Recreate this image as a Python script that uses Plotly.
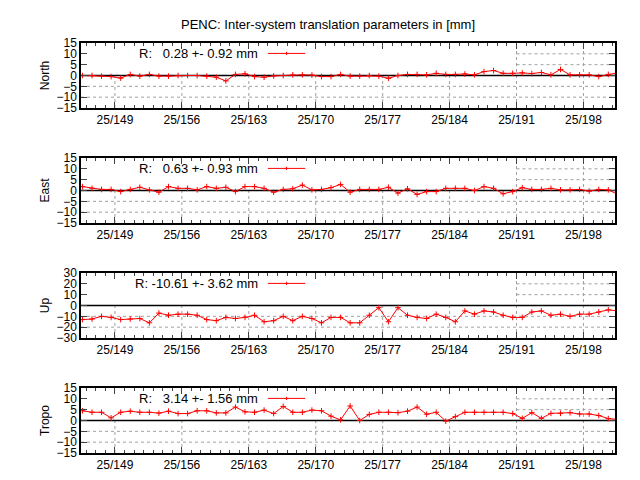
import plotly.graph_objects as go

days = [145.6 + i for i in range(57)]
tick_days = [149, 156, 163, 170, 177, 184, 191, 198]
tick_text = ["25/%d" % d for d in tick_days]

north = [0, 0, -0.3, -0.5, -1.2, 0.5, -0.3, 0.5, -0.3, -0.3, 0, 0, 0,
         -0.3, -0.8, -2.5, 0.5, 0.8, -0.5, -0.8, -0.2, 0, 0.3, 0.3, 0.2,
         -0.5, -0.5, 0.5, -0.3, -0.3, 0, -0.3, -1.3, 0, 0.5, 0.5, 0.3,
         1.0, 0.5, 0.5, 0.7, 0.3, 1.8, 2.3, 1.0, 1.0, 1.2, 0.9, 1.4, 0.3,
         2.8, 0.3, 0.3, 0.3, -0.5, 0.5, 1.3]
east = [1.8, 1.0, 0.5, 0.5, -0.5, 0.5, 1.5, 0.3, -0.8, 1.8, 1.0, 1.0,
        0.3, 1.8, 1.0, 1.5, -0.5, 1.8, 1.8, 1.0, -0.8, 0.5, 0.8, 2.5,
        0.3, 0.5, 1.3, 2.8, -0.8, 0.5, 0.5, 0.5, 1.5, -1.2, 0.8, -1.8,
        -0.5, -0.5, 1.0, 1.0, 1.0, 0, 1.8, 1.0, -1.5, -0.5, 1.3, 0.5,
        0.5, 1.0, 0.3, 0.3, 0.5, -0.3, 0.5, 0.3, -1.8]
up = [-13, -12.5, -10, -11, -13, -12.5, -12, -16, -7, -9, -8, -8, -9,
      -13, -14, -11, -12, -11, -9, -15, -14, -10, -14, -10, -12, -16,
      -11, -11, -16, -16, -9, -2, -15, -2, -9, -11, -12, -8, -11, -15,
      -5, -8, -5, -6, -9, -11, -11, -6, -5, -9, -8, -10, -8, -8, -6, -4,
      -5]
tropo = [4.5, 3.8, 3.8, 1.2, 3.8, 4.3, 3.8, 3.8, 3.4, 4.3, 3.2, 3.2,
         4.5, 4.5, 3.5, 3.5, 6.2, 4.0, 3.8, 4.8, 3.2, 6.5, 3.8, 3.8, 4.8,
         4.5, 2.0, 0.3, 6.7, 0.0, 2.8, 3.8, 3.8, 3.6, 4.3, 6.2, 2.9, 3.8,
         -0.3, 1.8, 3.8, 3.8, 3.8, 3.8, 3.8, 3.2, 1.0, 3.6, 1.0, 3.3,
         3.3, 3.6, 3.0, 3.0, 2.3, 0.9, 0.5]

panels = [
    ("North", north, "R:   0.28 +- 0.92 mm", 15, 5),
    ("East", east, "R:   0.63 +- 0.93 mm", 15, 5),
    ("Up", up, "R: -10.61 +- 3.62 mm", 30, 10),
    ("Tropo", tropo, "R:   3.14 +- 1.56 mm", 15, 5),
]

H = 410.0
domains = [[345 / H, 1], [230 / H, 295 / H], [115 / H, 180 / H], [0, 65 / H]]
font = dict(family="Liberation Sans, Arial", size=12, color="black")
grid = dict(color="#a0a0a0", width=1, dash="dot")

fig = go.Figure()
shapes = []
annotations = []
x0, x1 = 145.45, 201.3
for i, (name, vals, label, lim, step) in enumerate(panels):
    n = "" if i == 0 else str(i + 1)
    xa, ya = "x" + n, "y" + n
    fig.add_trace(go.Scatter(
        x=days, y=vals, xaxis=xa, yaxis=ya, mode="lines+markers",
        line=dict(color="red", width=1),
        marker=dict(symbol="cross-thin", size=4, line=dict(color="red", width=1)),
        showlegend=False))
    fig.layout["xaxis" + n] = dict(
        domain=[0, 1], anchor=ya, range=[x0, x1], tickvals=tick_days,
        ticktext=tick_text, ticks="inside", ticklen=6, mirror="ticks",
        showline=True, linecolor="black", linewidth=1.5, showgrid=False,
        minor=dict(dtick=1, tick0=145, ticks="inside", ticklen=3),
        tickfont=font, zeroline=False)
    fig.layout["yaxis" + n] = dict(
        domain=domains[i], anchor=xa, range=[-lim, lim],
        tickvals=list(range(-lim, lim + 1, step)), ticks="inside",
        ticklen=6, mirror="ticks", showline=True, linecolor="black",
        linewidth=1.5, showgrid=False, zeroline=False, tickfont=font,
        title=dict(text=name, font=font, standoff=4))
    # dotted grid; the key box hides it above zero left of 25/191
    for d in tick_days:
        top = lim if d >= 191 else 0
        shapes.append(dict(type="line", xref=xa, yref=ya, x0=d, x1=d,
                           y0=-lim, y1=top, line=grid, layer="below"))
    for v in range(-lim + step, lim, step):
        if v == 0:
            continue
        left = x0 if v < 0 else 191
        shapes.append(dict(type="line", xref=xa, yref=ya, x0=left, x1=x1,
                           y0=v, y1=v, line=grid, layer="below"))
    shapes.append(dict(type="line", xref=xa, yref=ya, x0=x0, x1=x1,
                       y0=0, y1=0, line=dict(color="black", width=1.5),
                       layer="below"))
    ky = lim * 0.68
    annotations.append(dict(text=label, xref=xa + " domain", yref=ya,
                            x=0.335, y=ky, xanchor="right", showarrow=False,
                            font=dict(family="Liberation Sans, Arial", size=13)))
    shapes.append(dict(type="line", xref=xa + " domain", yref=ya,
                       x0=0.35, x1=0.42, y0=ky, y1=ky,
                       line=dict(color="red", width=1)))
    shapes.append(dict(type="line", xref=xa + " domain", yref=ya,
                       x0=0.385, x1=0.385, y0=ky - lim * 0.05,
                       y1=ky + lim * 0.05, line=dict(color="red", width=1)))

fig.update_layout(
    width=640, height=480, plot_bgcolor="white", paper_bgcolor="white",
    margin=dict(l=73, r=33, t=35, b=35), font=font,
    title=dict(text="PENC: Inter-system translation parameters in [mm]",
               x=0.5, y=0.975, font=dict(family="Liberation Sans, Arial",
                                         size=13)),
    shapes=shapes, annotations=annotations)

fig.write_html("out.html")
